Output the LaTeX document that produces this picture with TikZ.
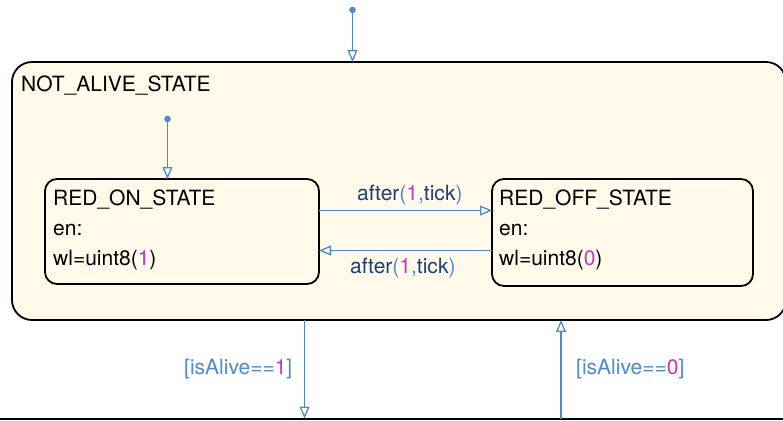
\documentclass[tikz,border=0pt]{standalone}
\usepackage{fontspec}
\setmainfont{TeX Gyre Heros}
\usetikzlibrary{arrows.meta}
\definecolor{lblue}{RGB}{78,138,204}
\definecolor{navy}{RGB}{30,62,120}
\definecolor{mag}{RGB}{205,50,200}
\definecolor{cream}{RGB}{255,250,234}
\tikzset{
  statebox/.style={draw=black, line width=1.8pt, fill=cream, rectangle, outer sep=0pt, inner sep=0pt},
  trans/.style={draw=lblue, line width=1.6pt, -{Triangle[open, length=12pt, width=10pt, line width=1.3pt]}},
  dotm/.style={fill=lblue},
  txt/.style={anchor=base west, inner sep=0pt, font=\fontsize{21}{25}\selectfont},
}
\begin{document}
\begin{tikzpicture}[x=1pt,y=-1pt]
\useasboundingbox (0,0) rectangle (783,420);
\clip (0,0) rectangle (783,420);
% lower state (mostly outside view)
\node[statebox, fill=white, line width=2pt, minimum width=820pt, minimum height=100pt, anchor=north] (alive) at (391.5,418.5) {};
% outer state
\node[statebox, rounded corners=20pt, minimum width=774pt, minimum height=258pt] (notalive) at (399,191) {};
\node[txt] (t0) at (21,91) {NOT\_ALIVE\_STATE};
% inner states
\node[statebox, rounded corners=12pt, minimum width=274pt, minimum height=105pt] (redon) at (182,231.5) {};
\node[statebox, rounded corners=12pt, minimum width=261pt, minimum height=107pt] (redoff) at (622.5,232.5) {};
\node[txt] (t1) at (53,205) {RED\_ON\_STATE};
\node[txt] (t2) at (53,235) {en:};
\node[txt] (t3) at (53,265) {wl=uint8(\textcolor{mag}{1})};
\node[txt] (t4) at (499,205) {RED\_OFF\_STATE};
\node[txt] (t5) at (499,235) {en:};
\node[txt] (t6) at (499,265) {wl=uint8(\textcolor{mag}{0})};
% default transitions
\coordinate (d0) at (352.5,10);
\fill[dotm] (d0) circle (3.3pt);
\draw[trans] (d0) -- (d0 |- notalive.north);
\coordinate (d1) at (167.5,119);
\fill[dotm] (d1) circle (3.3pt);
\draw[trans] (d1) -- (d1 |- redon.north);
% inner transitions
\draw[trans] ([yshift=21pt]redon.east) -- ([yshift=21pt]redon.east -| redoff.west);
\draw[trans] ([yshift=-19pt]redon.east -| redoff.west) -- ([yshift=-19pt]redon.east);
\node[txt, text=navy] (l1) at (357,200) {after\textcolor{lblue}{(}\textcolor{mag}{1}\textcolor{lblue}{,}tick\textcolor{lblue}{)}};
\node[txt, text=navy] (l2) at (350,273) {after\textcolor{lblue}{(}\textcolor{mag}{1}\textcolor{lblue}{,}tick\textcolor{lblue}{)}};
% outer transitions
\coordinate (xa) at (304.5,0);
\coordinate (xb) at (561,0);
\draw[trans] (notalive.south -| xa) -- (alive.north -| xa);
\draw[trans] (alive.north -| xb) -- (notalive.south -| xb);
\node[txt, text=lblue] (l3) at (184,374) {[isAlive==\textcolor{mag}{1}]};
\node[txt, text=lblue] (l4) at (576,374) {[isAlive==\textcolor{mag}{0}]};
\end{tikzpicture}
\end{document}
